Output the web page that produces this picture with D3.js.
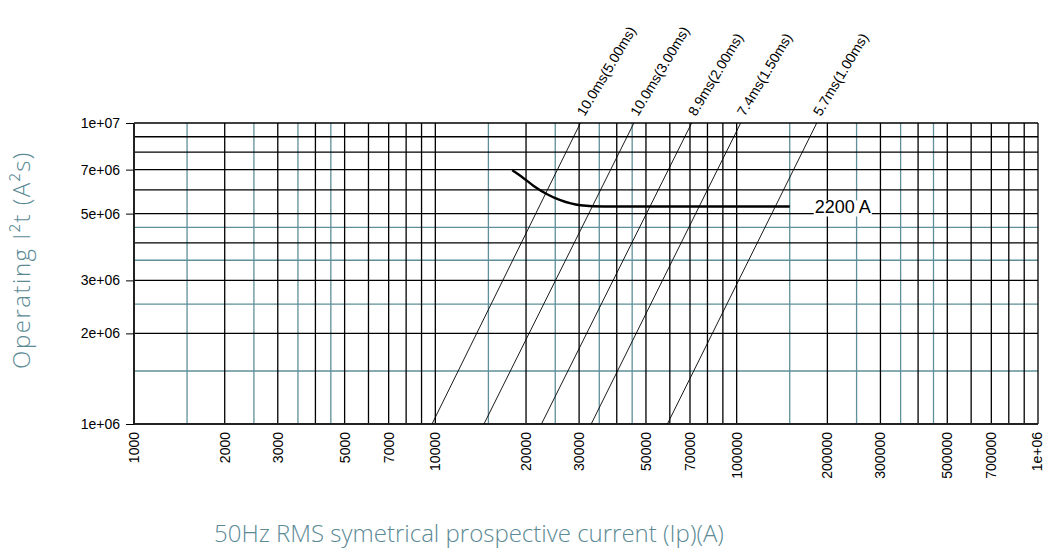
<!DOCTYPE html>
<html>
<head>
<meta charset="utf-8">
<script src="https://cdn.jsdelivr.net/npm/d3@7"></script>
<style>
  body { margin: 0; background: #fff; }
  svg { display: block; }
  .axis-title { font-family: "Open Sans", sans-serif; font-weight: 300; font-size: 24px; fill: #5b8a95; }
</style>
</head>
<body>
<div id="chart"></div>
<script>
// chart data
var xTicks = [1000, 2000, 3000, 5000, 7000, 10000, 20000, 30000, 50000, 70000, 100000, 200000, 300000, 500000, 700000, 1000000];
var xTickLabels = ["1000", "2000", "3000", "5000", "7000", "10000", "20000", "30000", "50000", "70000", "100000", "200000", "300000", "500000", "700000", "1e+06"];
var yTicks = [1e6, 2e6, 3e6, 5e6, 7e6, 1e7];
var yTickLabels = ["1e+06", "2e+06", "3e+06", "5e+06", "7e+06", "1e+07"];

// grid multipliers per decade
var blackMult = [1, 2, 3, 4, 5, 6, 7, 8, 9];
var tealMult = [1.5, 2.5, 3.5, 4.5];
var xDecades = [1000, 10000, 100000];
var yDecades = [1e6];

// let-through lines (current at I2t = 1e6 and at I2t = 1e7)
var ltLabels = ["10.0ms(5.00ms)", "10.0ms(3.00ms)", "8.9ms(2.00ms)", "7.4ms(1.50ms)", "5.7ms(1.00ms)"];
var ltStart = [9750, 14500, 22500, 32900, 58900];
var ltEnd = [30300, 45600, 70900, 103100, 184400];

// 2200 A operating curve
var curveI = [18000, 19200, 21200, 23500, 26000, 30300, 36300, 60000, 150000];
var curveI2t = [6.97e6, 6.67e6, 6.18e6, 5.80e6, 5.54e6, 5.33e6, 5.28e6, 5.28e6, 5.28e6];
var curveLabel = "2200 A";

var svgWidth = 1044, svgHeight = 549;
var plot = { left: 134, right: 1038, top: 123, bottom: 424 };
var labelFont = '"Liberation Sans", Arial, sans-serif';

var svg = d3.select('#chart')
    .append('svg')
    .attr('width', svgWidth)
    .attr('height', svgHeight);

var xScale = d3.scaleLog().domain([1000, 1e6]).range([plot.left, plot.right]);
var yScale = d3.scaleLog().domain([1e6, 1e7]).range([plot.bottom, plot.top]);

// build grid values
var xBlack = [], xTeal = [], yBlack = [], yTeal = [];
xDecades.forEach(function(d) {
    blackMult.forEach(function(m) { xBlack.push(d * m); });
    tealMult.forEach(function(m) { xTeal.push(d * m); });
});
xBlack.push(1e6);
yDecades.forEach(function(d) {
    blackMult.forEach(function(m) { yBlack.push(d * m); });
    tealMult.forEach(function(m) { yTeal.push(d * m); });
});
yBlack.push(1e7);

var grid = svg.append('g');

// teal lines first
grid.selectAll('.xt').data(xTeal).enter().append('line')
    .attr('x1', d => xScale(d)).attr('x2', d => xScale(d))
    .attr('y1', plot.top).attr('y2', plot.bottom)
    .attr('stroke', '#5f8f99').attr('stroke-width', 1.3);
grid.selectAll('.yt').data(yTeal).enter().append('line')
    .attr('y1', d => yScale(d)).attr('y2', d => yScale(d))
    .attr('x1', plot.left).attr('x2', plot.right)
    .attr('stroke', '#5f8f99').attr('stroke-width', 1.3);

grid.selectAll('.xb').data(xBlack).enter().append('line')
    .attr('x1', d => xScale(d)).attr('x2', d => xScale(d))
    .attr('y1', plot.top).attr('y2', plot.bottom)
    .attr('stroke', '#000').attr('stroke-width', 1.3);
grid.selectAll('.yb').data(yBlack).enter().append('line')
    .attr('y1', d => yScale(d)).attr('y2', d => yScale(d))
    .attr('x1', plot.left).attr('x2', plot.right)
    .attr('stroke', '#000').attr('stroke-width', 1.3);

// frame left / bottom
svg.append('line').attr('x1', plot.left).attr('x2', plot.left)
    .attr('y1', plot.top).attr('y2', plot.bottom)
    .attr('stroke', '#222').attr('stroke-width', 2);
svg.append('line').attr('x1', plot.left).attr('x2', plot.right)
    .attr('y1', plot.bottom).attr('y2', plot.bottom)
    .attr('stroke', '#222').attr('stroke-width', 2);

// y axis ticks + labels
var leftAxis = d3.axisLeft(yScale)
    .tickValues(yTicks)
    .tickSize(8)
    .tickPadding(6)
    .tickFormat((d, i) => yTickLabels[i]);
var yAxis = svg.append('g')
    .attr('transform', `translate(${plot.left},0)`)
    .call(leftAxis)
    .attr('font-family', labelFont)
    .attr('font-size', 14);
yAxis.select('.domain').remove();
yAxis.selectAll('.tick line').attr('stroke', '#000');
yAxis.selectAll('.tick text').attr('fill', '#000');

// x tick labels, rotated
svg.append('g').selectAll('text')
    .data(xTicks)
    .enter()
    .append('text')
    .attr('font-family', labelFont)
    .attr('font-size', 14)
    .attr('text-anchor', 'end')
    .attr('transform', d => `translate(${Math.min(xScale(d) + 5, 1042)},${plot.bottom + 8})rotate(-90)`)
    .text((d, i) => xTickLabels[i]);

// let-through lines
var lt = svg.append('g');
lt.selectAll('line').data(ltStart).enter().append('line')
    .attr('x1', d => xScale(d)).attr('y1', yScale(1e6))
    .attr('x2', (d, i) => xScale(ltEnd[i])).attr('y2', yScale(1e7))
    .attr('stroke', '#000').attr('stroke-width', 0.9);
lt.selectAll('text').data(ltLabels).enter().append('text')
    .attr('font-family', labelFont)
    .attr('font-size', 14)
    .attr('transform', (d, i) => `translate(${xScale(ltEnd[i]) + 4},${plot.top - 6})rotate(-59)`)
    .text(d => d);

// operating curve
var curveData = curveI.map((d, i) => [d, curveI2t[i]]);
var line = d3.line()
    .x(d => xScale(d[0]))
    .y(d => yScale(d[1]))
    .curve(d3.curveMonotoneX);
svg.append('path')
    .datum(curveData)
    .attr('d', line)
    .attr('fill', 'none')
    .attr('stroke', '#000')
    .attr('stroke-width', 2.4);

// curve label with white box
var lblX = xScale(150000) + 25, lblY = yScale(5.28e6) + 7;
var lblBox = svg.append('rect')
    .attr('fill', '#fff');
var lbl = svg.append('text')
    .attr('x', lblX).attr('y', lblY)
    .attr('font-family', labelFont)
    .attr('font-size', 18)
    .text(curveLabel);
var bb = lbl.node().getBBox();
lblBox.attr('x', bb.x - 1).attr('y', bb.y + 3).attr('width', bb.width + 2).attr('height', bb.height - 4);

// axis titles
svg.append('text')
    .attr('class', 'axis-title')
    .attr('text-anchor', 'middle')
    .attr('x', 469)
    .attr('y', 542)
    .text('50Hz RMS symetrical prospective current (Ip)(A)');

svg.append('text')
    .attr('class', 'axis-title')
    .attr('text-anchor', 'middle')
    .attr('letter-spacing', '1.5px')
    .attr('transform', 'translate(30,260)rotate(-90)')
    .text('Operating I²t (A²s)');
</script>
</body>
</html>
